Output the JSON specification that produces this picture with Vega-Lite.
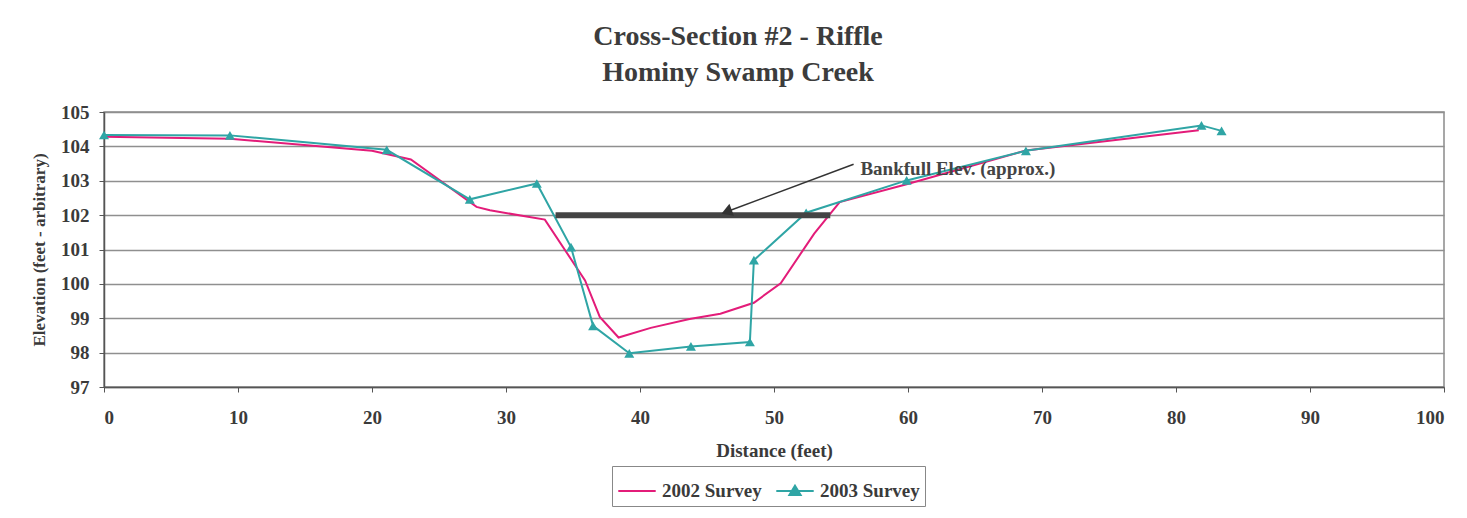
{
  "$schema": "https://vega.github.io/schema/vega-lite/v6.json",
  "width": 1340,
  "height": 275,
  "autosize": {"type": "none"},
  "padding": {"left": 104, "top": 112, "right": 23, "bottom": 131},
  "background": "#ffffff",
  "title": {
    "text": ["Cross-Section #2 - Riffle", "Hominy Swamp Creek"],
    "font": "Liberation Serif",
    "fontSize": 28,
    "fontWeight": "bold",
    "color": "#3c3c3c",
    "lineHeight": 36,
    "anchor": "middle",
    "dx": -36,
    "offset": 16
  },
  "datasets": {
    "surveys": [
      {"survey": "2002 Survey", "distance": 0, "elevation": 104.28},
      {"survey": "2002 Survey", "distance": 9.4, "elevation": 104.22},
      {"survey": "2002 Survey", "distance": 20.0, "elevation": 103.87},
      {"survey": "2002 Survey", "distance": 22.9, "elevation": 103.62},
      {"survey": "2002 Survey", "distance": 27.8, "elevation": 102.24},
      {"survey": "2002 Survey", "distance": 28.8, "elevation": 102.14},
      {"survey": "2002 Survey", "distance": 32.9, "elevation": 101.87},
      {"survey": "2002 Survey", "distance": 35.9, "elevation": 100.1},
      {"survey": "2002 Survey", "distance": 37.0, "elevation": 99.04},
      {"survey": "2002 Survey", "distance": 38.4, "elevation": 98.44},
      {"survey": "2002 Survey", "distance": 40.8, "elevation": 98.72},
      {"survey": "2002 Survey", "distance": 43.7, "elevation": 98.98},
      {"survey": "2002 Survey", "distance": 46.0, "elevation": 99.13},
      {"survey": "2002 Survey", "distance": 48.5, "elevation": 99.45},
      {"survey": "2002 Survey", "distance": 50.5, "elevation": 100.02},
      {"survey": "2002 Survey", "distance": 53.0, "elevation": 101.46},
      {"survey": "2002 Survey", "distance": 54.9, "elevation": 102.38},
      {"survey": "2002 Survey", "distance": 59.9, "elevation": 102.9},
      {"survey": "2002 Survey", "distance": 68.8, "elevation": 103.88},
      {"survey": "2002 Survey", "distance": 81.7, "elevation": 104.47},
      {"survey": "2003 Survey", "distance": 0, "elevation": 104.33},
      {"survey": "2003 Survey", "distance": 9.4, "elevation": 104.32},
      {"survey": "2003 Survey", "distance": 21.1, "elevation": 103.9},
      {"survey": "2003 Survey", "distance": 27.3, "elevation": 102.46},
      {"survey": "2003 Survey", "distance": 32.3, "elevation": 102.92},
      {"survey": "2003 Survey", "distance": 34.85, "elevation": 101.07},
      {"survey": "2003 Survey", "distance": 36.5, "elevation": 98.78},
      {"survey": "2003 Survey", "distance": 39.2, "elevation": 97.98},
      {"survey": "2003 Survey", "distance": 43.8, "elevation": 98.18},
      {"survey": "2003 Survey", "distance": 48.2, "elevation": 98.31},
      {"survey": "2003 Survey", "distance": 48.5, "elevation": 100.69},
      {"survey": "2003 Survey", "distance": 52.4, "elevation": 102.07},
      {"survey": "2003 Survey", "distance": 59.9, "elevation": 103.01},
      {"survey": "2003 Survey", "distance": 68.8, "elevation": 103.87},
      {"survey": "2003 Survey", "distance": 81.9, "elevation": 104.61},
      {"survey": "2003 Survey", "distance": 83.4, "elevation": 104.45}
    ],
    "bankfull": [
      {"start": 33.7, "end": 54.2, "elevation": 102.0}
    ],
    "pointer": [
      {"fromX": 55.94, "fromY": 103.48, "toX": 46.46, "toY": 102.1, "label": "Bankfull Elev. (approx.)", "labelX": 56.45, "labelY": 103.33}
    ]
  },
  "layer": [
    {
      "data": {"name": "surveys"},
      "mark": {"type": "line", "strokeWidth": 2, "interpolate": "linear"},
      "encoding": {
        "x": {
          "field": "distance",
          "type": "quantitative",
          "title": "Distance (feet)",
          "scale": {"domain": [0, 100], "nice": false, "zero": false},
          "axis": {"values": [0, 10, 20, 30, 40, 50, 60, 70, 80, 90, 100]}
        },
        "y": {
          "field": "elevation",
          "type": "quantitative",
          "title": "Elevation (feet - arbitrary)",
          "scale": {"domain": [97, 105], "nice": false, "zero": false},
          "axis": {"values": [97, 98, 99, 100, 101, 102, 103, 104, 105]}
        },
        "color": {
          "field": "survey",
          "type": "nominal",
          "scale": {"domain": ["2002 Survey", "2003 Survey"], "range": ["#E31C79", "#2FA5A5"]},
          "legend": {
            "title": null,
            "orient": "none",
            "legendX": 508,
            "legendY": 354,
            "direction": "horizontal",
            "strokeColor": "#888888",
            "fillColor": "#ffffff",
            "padding": 5,
            "symbolSize": 1400,
            "symbolStrokeWidth": 2,
            "columnPadding": 10,
            "labelOffset": 5,
            "encode": {
              "symbols": {
                "update": {
                  "shape": {"signal": "datum.value === '2003 Survey' ? 'M-1,0H1M0,-0.28L0.3,0.22L-0.3,0.22Z' : 'M-1,0H1'"},
                  "fill": {"signal": "datum.value === '2003 Survey' ? '#2FA5A5' : 'transparent'"}
                }
              }
            }
          }
        },
        "order": {"field": "distance", "type": "quantitative"}
      }
    },
    {
      "data": {"name": "surveys"},
      "transform": [{"filter": "datum.survey === '2003 Survey'"}],
      "mark": {"type": "point", "shape": "triangle-up", "filled": true, "size": 100, "fill": "#2FA5A5", "stroke": null, "opacity": 1},
      "encoding": {
        "x": {"field": "distance", "type": "quantitative", "title": "Distance (feet)", "scale": {"domain": [0, 100], "nice": false, "zero": false}, "axis": {"values": [0, 10, 20, 30, 40, 50, 60, 70, 80, 90, 100]}},
        "y": {"field": "elevation", "type": "quantitative", "title": "Elevation (feet - arbitrary)", "scale": {"domain": [97, 105], "nice": false, "zero": false}, "axis": {"values": [97, 98, 99, 100, 101, 102, 103, 104, 105]}}
      }
    },
    {
      "data": {"name": "bankfull"},
      "mark": {"type": "rule", "strokeWidth": 6, "color": "#444444"},
      "encoding": {
        "x": {"field": "start", "type": "quantitative", "title": "Distance (feet)", "scale": {"domain": [0, 100], "nice": false, "zero": false}, "axis": {"values": [0, 10, 20, 30, 40, 50, 60, 70, 80, 90, 100]}},
        "x2": {"field": "end"},
        "y": {"field": "elevation", "type": "quantitative", "title": "Elevation (feet - arbitrary)", "scale": {"domain": [97, 105], "nice": false, "zero": false}, "axis": {"values": [97, 98, 99, 100, 101, 102, 103, 104, 105]}}
      }
    },
    {
      "data": {"name": "pointer"},
      "mark": {"type": "rule", "strokeWidth": 1.5, "color": "#333333"},
      "encoding": {
        "x": {"field": "fromX", "type": "quantitative", "title": "Distance (feet)", "scale": {"domain": [0, 100], "nice": false, "zero": false}, "axis": {"values": [0, 10, 20, 30, 40, 50, 60, 70, 80, 90, 100]}},
        "y": {"field": "fromY", "type": "quantitative", "title": "Elevation (feet - arbitrary)", "scale": {"domain": [97, 105], "nice": false, "zero": false}, "axis": {"values": [97, 98, 99, 100, 101, 102, 103, 104, 105]}},
        "x2": {"field": "toX"},
        "y2": {"field": "toY"}
      }
    },
    {
      "data": {"name": "pointer"},
      "mark": {"type": "point", "shape": "triangle-up", "filled": true, "size": 160, "angle": 249, "fill": "#333333", "stroke": null, "opacity": 1},
      "encoding": {
        "x": {"field": "toX", "type": "quantitative", "title": "Distance (feet)", "scale": {"domain": [0, 100], "nice": false, "zero": false}, "axis": {"values": [0, 10, 20, 30, 40, 50, 60, 70, 80, 90, 100]}},
        "y": {"field": "toY", "type": "quantitative", "title": "Elevation (feet - arbitrary)", "scale": {"domain": [97, 105], "nice": false, "zero": false}, "axis": {"values": [97, 98, 99, 100, 101, 102, 103, 104, 105]}}
      }
    },
    {
      "data": {"name": "pointer"},
      "mark": {"type": "text", "align": "left", "baseline": "middle", "font": "Liberation Serif", "fontSize": 19, "fontWeight": "bold", "color": "#444444"},
      "encoding": {
        "x": {"field": "labelX", "type": "quantitative", "title": "Distance (feet)", "scale": {"domain": [0, 100], "nice": false, "zero": false}, "axis": {"values": [0, 10, 20, 30, 40, 50, 60, 70, 80, 90, 100]}},
        "y": {"field": "labelY", "type": "quantitative", "title": "Elevation (feet - arbitrary)", "scale": {"domain": [97, 105], "nice": false, "zero": false}, "axis": {"values": [97, 98, 99, 100, 101, 102, 103, 104, 105]}},
        "text": {"field": "label"}
      }
    }
  ],
  "config": {
    "view": {"stroke": "#8a8a8a", "strokeWidth": 1.5},
    "axis": {
      "labelFont": "Liberation Serif",
      "labelFontSize": 19,
      "labelFontWeight": "bold",
      "labelColor": "#3a3a3a",
      "labelOverlap": false,
      "titleFont": "Liberation Serif",
      "titleFontWeight": "bold",
      "titleColor": "#3a3a3a",
      "domainColor": "#555555",
      "domainWidth": 1.5,
      "tickColor": "#555555",
      "tickWidth": 1,
      "tickSize": 5,
      "gridColor": "#8f8f8f",
      "gridWidth": 1.3,
      "gridOpacity": 1
    },
    "axisX": {
      "grid": false,
      "labelPadding": 16,
      "titlePadding": 14,
      "titleFontSize": 19
    },
    "axisY": {
      "grid": true,
      "labelPadding": 10,
      "titlePadding": 12,
      "titleFontSize": 17
    },
    "legend": {
      "labelFont": "Liberation Serif",
      "labelFontSize": 19,
      "labelFontWeight": "bold",
      "labelColor": "#3a3a3a"
    }
  }
}
